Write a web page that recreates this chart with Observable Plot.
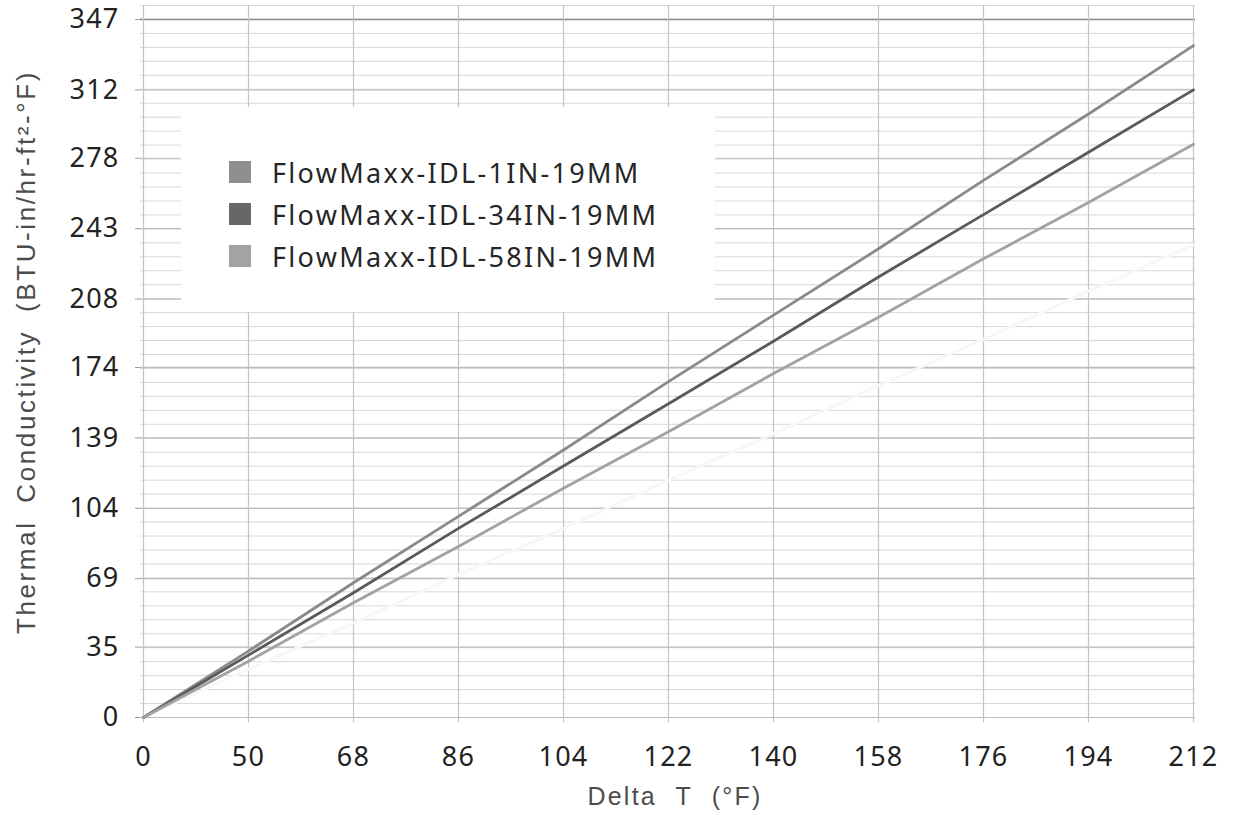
<!DOCTYPE html>
<html><head><meta charset="utf-8">
<script src="https://cdn.jsdelivr.net/npm/d3@7"></script>
<script src="https://cdn.jsdelivr.net/npm/@observablehq/plot@0.6"></script>
<style>
body{margin:0;background:#fff}
#wrap{position:relative;width:1233px;height:815px;overflow:hidden}
#legend{position:absolute;left:181px;top:107px;width:534px;height:205px;background:#fff;box-sizing:border-box;padding-top:44px}
.row{height:42px;display:flex;align-items:center;padding-left:48px;font-family:"Noto Sans",sans-serif;font-size:27px;letter-spacing:2.3px;color:#262626}
.sw{width:22px;height:22px;margin-right:21px;flex:none}
</style></head><body>
<div id="wrap"><div id="legend"></div></div>
<script>
const deltaT = ["0", "50", "68", "86", "104", "122", "140", "158", "176", "194", "212"];
const yTicks = [0, 35, 69, 104, 139, 174, 208, 243, 278, 312, 347];
const seriesNames = ["FlowMaxx-IDL-1IN-19MM", "FlowMaxx-IDL-34IN-19MM", "FlowMaxx-IDL-58IN-19MM"];
const lineColors = ["#8a8a8a", "#5a5a5a", "#a2a2a2"];
const swatchColors = ["#8e8e8e", "#676767", "#a3a3a3"];
const values1IN = [0, 33, 67, 100, 133, 167, 200, 233, 267, 300, 334];
const values34IN = [0, 31, 62, 94, 125, 156, 187, 219, 250, 281, 312];
const values58IN = [0, 28, 57, 85, 114, 142, 171, 199, 228, 256, 285];
const ghostValues = [0, 24, 47, 71, 94, 118, 141, 165, 188, 212, 235];
const xTitle = "Delta T (°F)";
const yTitle = "Thermal Conductivity (BTU-in/hr-ft²-°F)";

const seriesValues = [values1IN, values34IN, values58IN];
const data = seriesNames.flatMap((name, s) => deltaT.map((t, i) => ({series: name, t, k: seriesValues[s][i]})));
const ghost = deltaT.map((t, i) => ({t, k: ghostValues[i]}));

const step = 347 / 50;
const yMax = step * 51;
const minorY = d3.range(0, 52).map(i => i * step);

const plot = Plot.plot({
  width: 1233,
  height: 815,
  marginLeft: 140,
  marginRight: 38,
  marginTop: 5,
  marginBottom: 98,
  style: {fontFamily: "'Noto Sans', sans-serif", fontSize: "27px", color: "#222", background: "#fff", letterSpacing: "1.2px"},
  x: {type: "point", domain: deltaT, padding: 0, label: null},
  y: {domain: [0, yMax], label: null},
  color: {domain: seriesNames, range: lineColors},
  marks: [
    Plot.ruleY(minorY, {stroke: "#d8d8d8", strokeWidth: 1}),
    Plot.ruleY(yTicks, {stroke: "#bcbcbc", strokeWidth: 1.2}),
    Plot.ruleY([347], {stroke: "#8c8c8c", strokeWidth: 1.5}),
    Plot.ruleX(deltaT, {y1: -2.6, y2: yMax, stroke: "#c4c4c4", strokeWidth: 1.2}),
    Plot.line(ghost, {x: "t", y: "k", stroke: "#f7f7f7", strokeWidth: 3}),
    Plot.line(data, {x: "t", y: "k", z: "series", stroke: "series", strokeWidth: 2.8}),
    Plot.axisX({tickSize: 0, tickPadding: 29, fill: "#222", fontSize: 27}),
    Plot.axisY({ticks: yTicks, tickSize: 5, tickPadding: 16, stroke: "#9a9a9a", fill: "#222", fontSize: 27, tickFormat: d => String(d)})
  ]
});

const wrap = document.getElementById("wrap");
wrap.insertBefore(plot, wrap.firstChild);

const svg = d3.select(plot);
svg.append("text")
  .attr("x", 675).attr("y", 805)
  .attr("text-anchor", "middle")
  .style("font-family", "'Liberation Sans', Arial, sans-serif")
  .style("font-size", "25px").style("letter-spacing", "2.2px").style("word-spacing", "10px")
  .attr("fill", "#4c4c4c")
  .text(xTitle);
svg.append("text")
  .attr("transform", "translate(26,352) rotate(-90)")
  .attr("text-anchor", "middle").attr("dy", "0.35em")
  .style("font-family", "'Liberation Sans', Arial, sans-serif")
  .style("font-size", "26px").style("letter-spacing", "2.6px").style("word-spacing", "8px")
  .attr("fill", "#4c4c4c")
  .text(yTitle);

const legend = d3.select("#legend");
seriesNames.forEach((name, i) => {
  const row = legend.append("div").attr("class", "row");
  row.append("div").attr("class", "sw").style("background", swatchColors[i]);
  row.append("span").text(name);
});
</script>
</body></html>
